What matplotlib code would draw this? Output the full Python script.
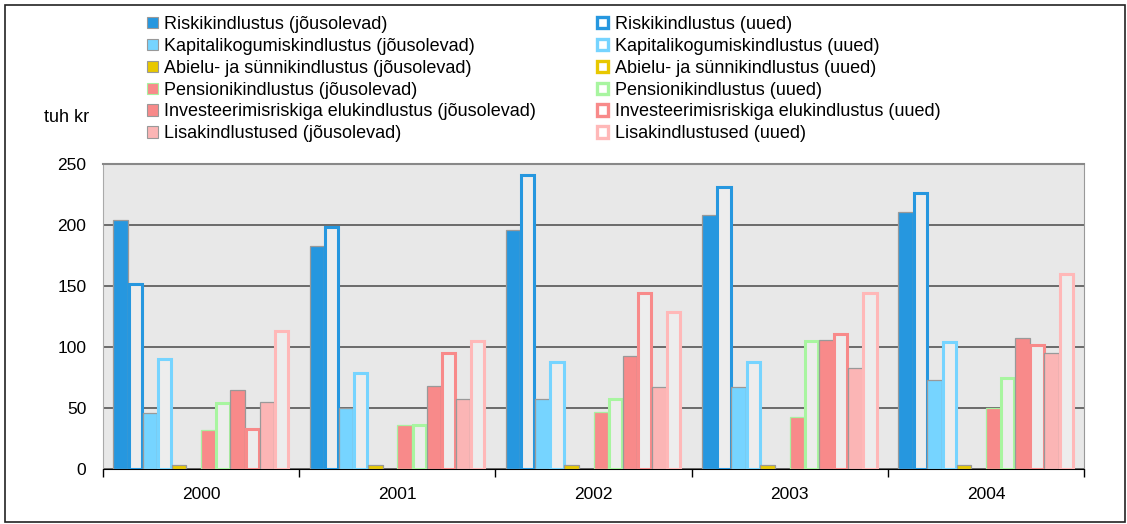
import numpy as np
import matplotlib.pyplot as plt
from matplotlib.patches import Patch, Rectangle

plt.rcParams['font.family'] = ['Liberation Sans', 'DejaVu Sans']

years = ['2000', '2001', '2002', '2003', '2004']
kinds = ['Riskikindlustus', 'Kapitalikogumiskindlustus', 'Abielu- ja sünnikindlustus',
         'Pensionikindlustus', 'Investeerimisriskiga elukindlustus', 'Lisakindlustused']

# tuh kr, jõusolevad / uued lepingud
risk_jous = [204, 183, 196, 208, 211]
risk_uued = [152, 198, 241, 231, 226]
kap_jous = [46, 50, 57, 67, 73]
kap_uued = [90, 79, 88, 88, 104]
abielu_jous = [3, 3, 3, 3, 3]
abielu_uued = [0, 0, 0, 0, 0]
pension_jous = [32, 36, 47, 43, 50]
pension_uued = [54, 36, 57, 105, 75]
invest_jous = [65, 68, 93, 106, 107]
invest_uued = [33, 95, 144, 111, 102]
lisa_jous = [55, 57, 67, 83, 95]
lisa_uued = [113, 105, 129, 144, 160]

jous = [risk_jous, kap_jous, abielu_jous, pension_jous, invest_jous, lisa_jous]
uued = [risk_uued, kap_uued, abielu_uued, pension_uued, invest_uued, lisa_uued]

fill_colors = ['#2697DF', '#76D4FF', '#E8C800', '#F88A8A', '#F88A8A', '#FBB5B5']
fill_edges = ['#999999', '#999999', '#999999', '#A8F0A0', '#999999', '#999999']
line_colors = ['#2697DF', '#76D4FF', '#E8C800', '#A8F5A0', '#F88A8A', '#FFB8B8']

W, H = 1127, 524
fig = plt.figure(figsize=(W / 100, H / 100), dpi=100)
ax = fig.add_axes([103 / W, 1 - 469 / H, 981 / W, 305 / H])
ax.set_facecolor('#E8E8E8')

x = np.arange(len(years))
w = 0.893 / 12
for k in range(len(kinds)):
    pos_j = x + (2 * k - 5.5) * w
    pos_u = x + (2 * k + 1 - 5.5) * w
    ax.bar(pos_j, jous[k], width=w, color=fill_colors[k],
           edgecolor=fill_edges[k], linewidth=0.9, zorder=3)
    bars = ax.bar(pos_u, uued[k], width=w * 0.9, color='#EDEDED',
                  edgecolor=line_colors[k], linewidth=2.2, zorder=3)
    for b in bars:
        if b.get_height() == 0:
            b.set_visible(False)

ax.set_xlim(-0.5, len(years) - 0.5)
ax.set_ylim(0, 250)
ax.set_yticks(range(0, 251, 50))
ax.yaxis.grid(True, color='#555555', linewidth=1.2, zorder=1)
ax.set_axisbelow(True)
ax.tick_params(axis='y', length=0, pad=12, labelsize=12.5)

ax.set_xticks(np.arange(-0.5, len(years)), minor=False)
ax.set_xticklabels([])
ax.set_xticks(x, minor=True)
ax.set_xticklabels(years, minor=True)
ax.tick_params(axis='x', which='major', length=6, width=1, color='black')
ax.tick_params(axis='x', which='minor', length=0, pad=13, labelsize=12.5)

ax.spines['bottom'].set_color('black')
ax.spines['top'].set_color('#888888')
ax.spines['top'].set_linewidth(1.5)
ax.spines['right'].set_color('#999999')
ax.spines['left'].set_color('#AAAAAA')

fig.text(67 / W, 1 - 118 / H, 'tuh kr', fontsize=13, ha='center', va='center')

handles = []
labels = []
for k in range(len(kinds)):
    handles.append(Patch(facecolor=fill_colors[k], edgecolor=fill_edges[k], linewidth=0.8))
    labels.append(kinds[k] + ' (jõusolevad)')
for k in range(len(kinds)):
    handles.append(Patch(facecolor='white', edgecolor=line_colors[k], linewidth=2.4))
    labels.append(kinds[k] + ' (uued)')

fig.legend(handles, labels, ncol=2, loc='upper left',
           bbox_to_anchor=(147 / W, 1 - 16 / H), frameon=False, fontsize=13,
           borderpad=0, borderaxespad=0, handlelength=0.6, handleheight=0.6,
           handletextpad=0.35, labelspacing=0.27, columnspacing=3.4)

fig.patches.append(Rectangle((4.5 / W, 2.5 / H), 1120.5 / W, 516.5 / H,
                             transform=fig.transFigure, fill=False,
                             edgecolor='#222222', linewidth=1.2))

fig.savefig('out.png', dpi=100)
